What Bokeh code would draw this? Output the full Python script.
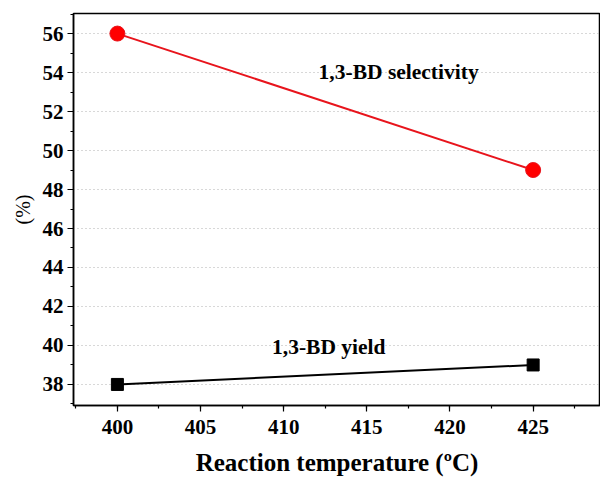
from bokeh.plotting import figure
from bokeh.models import Label, Range1d, SingleIntervalTicker
from bokeh.embed import file_html
from bokeh.resources import INLINE

temps = [400, 425]
selectivity = [56, 49]
yield_ = [38, 39]

FONT = "Liberation Serif"

p = figure(width=600, height=480, output_backend="svg", toolbar_location=None,
           x_range=Range1d(397.36, 429.05), y_range=Range1d(36.92, 57.03),
           min_border_left=73, min_border_right=0, min_border_top=13, min_border_bottom=75)

p.line(temps, selectivity, line_color="#e8141c", line_width=2)
p.scatter(temps, selectivity, marker="circle", size=15, fill_color="#ff0000", line_color="#e8141c")
p.line(temps, yield_, line_color="black", line_width=2)
p.scatter(temps, yield_, marker="square", size=12, fill_color="black", line_color="black")

p.xaxis.ticker = SingleIntervalTicker(interval=5, num_minor_ticks=2)
p.yaxis.ticker = SingleIntervalTicker(interval=2, num_minor_ticks=2)

for ax in (p.xaxis[0], p.yaxis[0]):
    ax.major_label_text_font = FONT
    ax.major_label_text_font_style = "bold"
    ax.major_label_text_font_size = "21px"
    ax.major_label_text_color = "black"
    ax.axis_line_width = 1.5
    ax.axis_line_color = "black"
    ax.major_tick_line_color = "black"
    ax.minor_tick_line_color = "black"
    ax.major_tick_line_width = 1.2
    ax.minor_tick_line_width = 1.2
    ax.major_tick_out = 6
    ax.major_tick_in = 0
    ax.minor_tick_out = 3
    ax.minor_tick_in = 0
    ax.axis_label_text_font = FONT
    ax.axis_label_text_color = "black"

p.xaxis.axis_label = "Reaction temperature (ºC)"
p.xaxis.axis_label_text_font_size = "25px"
p.xaxis.axis_label_text_font_style = "bold"
p.xaxis.axis_label_standoff = 12
p.xaxis.major_label_standoff = 8

p.yaxis.axis_label = "(%)"
p.yaxis.axis_label_text_font_size = "20px"
p.yaxis.axis_label_text_font_style = "normal"
p.yaxis.axis_label_standoff = 6
p.yaxis.major_label_standoff = 4

p.xgrid.grid_line_color = None
p.ygrid.grid_line_color = "#b0b0b0"
p.ygrid.grid_line_dash = "1 3"
p.ygrid.grid_line_width = 1

p.outline_line_color = "black"
p.outline_line_width = 1.5

p.add_layout(Label(x=412.1, y=53.4, text="1,3-BD selectivity", text_font=FONT,
                   text_font_style="bold", text_font_size="21.5px", text_color="black"))
p.add_layout(Label(x=409.3, y=39.33, text="1,3-BD yield", text_font=FONT,
                   text_font_style="bold", text_font_size="21.5px", text_color="black"))

open("out.html", "w").write(file_html(p, INLINE))
